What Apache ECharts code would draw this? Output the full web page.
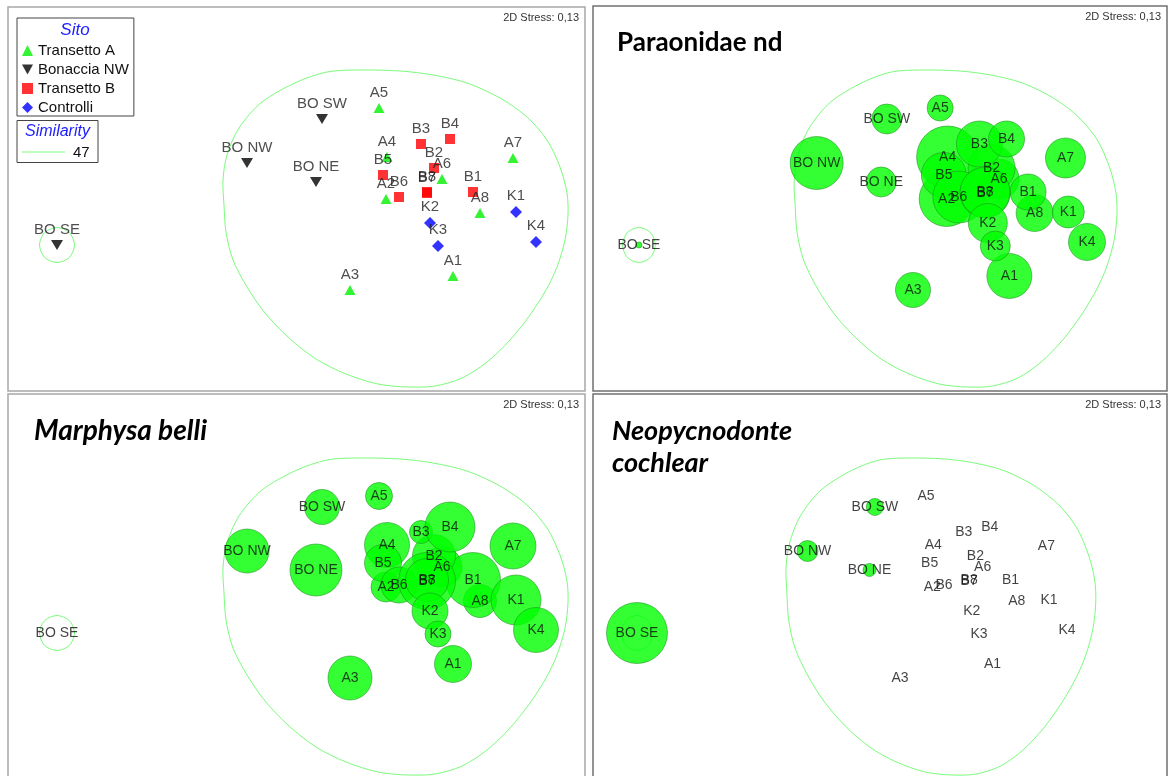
<!DOCTYPE html>
<html>
<head>
<meta charset="utf-8">
<script src="https://cdn.jsdelivr.net/npm/echarts@6/dist/echarts.min.js"></script>
<style>
html, body { margin: 0; padding: 0; background: #ffffff; }
#chart { width: 1170px; height: 776px; }
</style>
</head>
<body>
<div id="chart"></div>
<script>
// nMDS ordination of the samples, 2D stress 0,13
const samples = ['A1','A2','A3','A4','A5','A6','A7','A8',
                 'B1','B2','B3','B4','B5','B6','B7','B8',
                 'BO NW','BO SW','BO NE','BO SE',
                 'K1','K2','K3','K4'];
const sito = ['Transetto A','Transetto A','Transetto A','Transetto A','Transetto A','Transetto A','Transetto A','Transetto A',
              'Transetto B','Transetto B','Transetto B','Transetto B','Transetto B','Transetto B','Transetto B','Transetto B',
              'Bonaccia NW','Bonaccia NW','Bonaccia NW','Bonaccia NW',
              'Controlli','Controlli','Controlli','Controlli'];
const mds1 = [1.23, 0.56, 0.20, 0.57, 0.49, 1.12, 1.83, 1.50,
              1.43, 1.04, 0.91, 1.20, 0.53, 0.69, 0.97, 0.97,
              -0.83, -0.08, -0.14, -2.73,
              1.86, 1.00, 1.08, 2.06];
const mds2 = [-0.76, 0.01, -0.90, 0.43, 0.92, 0.21, 0.42, -0.13,
              0.08, 0.32, 0.56, 0.61, 0.25, 0.03, 0.07, 0.08,
              0.37, 0.81, 0.18, -0.45,
              -0.12, -0.23, -0.46, -0.42];

// species abundances shown as bubbles
const paraonidae = [9.0, 11.0, 7.0, 12.4, 5.2, 8.0, 8.0, 7.4,
                    7.2, 9.4, 9.2, 7.2, 9.0, 10.4, 10.0, 10.0,
                    10.6, 6.0, 6.0, 1.2,
                    6.4, 7.8, 6.0, 7.4];
const marphysa = [7.4, 6.0, 8.8, 9.0, 5.4, 8.0, 9.2, 6.6,
                  11.0, 8.6, 4.6, 10.0, 7.4, 7.2, 11.4, 8.6,
                  8.8, 7.0, 10.4, 0,
                  10.0, 7.2, 5.2, 9.0];
const neopycnodonte = [0, 0, 0, 0, 0, 0, 0, 0,
                       0, 0, 0, 0, 0, 0, 0, 0,
                       4.2, 3.4, 2.6, 12.2,
                       0, 0, 0, 0];

// 47 % similarity contours, in MDS coordinates
const similarityLevel = 47;
const contourMainX = [0.27, 0.70, 1.03, 1.37, 1.70, 1.97, 2.17, 2.30, 2.37, 2.38, 2.35, 2.27, 2.16, 2.00, 1.80, 1.57, 1.32,
                      1.05, 0.78, 0.48, 0.16, -0.14, -0.41, -0.65, -0.83, -0.97, -1.04, -1.06, -1.07, -1.03, -0.91, -0.68, -0.33, -0.03];
const contourMainY = [1.30, 1.29, 1.25, 1.17, 1.02, 0.83, 0.60, 0.33, 0.07, -0.15, -0.40, -0.67, -0.90, -1.15, -1.40, -1.62, -1.78,
                      -1.86, -1.87, -1.84, -1.74, -1.59, -1.38, -1.13, -0.87, -0.60, -0.32, -0.05, 0.20, 0.45, 0.72, 0.98, 1.18, 1.28];
const contourSeX = [-2.555, -2.606, -2.73, -2.854, -2.905, -2.854, -2.73, -2.606];
const contourSeY = [-0.45, -0.326, -0.275, -0.326, -0.45, -0.574, -0.625, -0.574];

const sitoNames = ['Transetto A', 'Bonaccia NW', 'Transetto B', 'Controlli'];
const stressText = '2D Stress: 0,13';
const panelTitles = ['', 'Paraonidae nd', 'Marphysa belli', 'Neopycnodonte\ncochlear'];

const contours = [
  { x: contourMainX, y: contourMainY },
  { x: contourSeX, y: contourSeY }
];

const LABEL_FONT = 'Liberation Sans, Arial, sans-serif';
const TITLE_FONT = 'Lato, sans-serif';
const BUBBLE_PX = 5;            // bubble diameter per abundance unit
const CONTOUR_COLOR = '#7cfb7c';

const markerStyle = {
  'Transetto A': { symbol: 'triangle', size: [11, 10], color: '#00f000' },
  'Bonaccia NW': { symbol: 'path://M0,0L10,0L5,9Z', size: [12, 10], color: '#000000' },
  'Transetto B': { symbol: 'rect', size: [10, 10], color: '#ff0000' },
  'Controlli':   { symbol: 'diamond', size: [12, 12], color: '#0000ff' }
};

// panel frames: grid in pixels + visible axis extent in MDS units
const panels = [
  { left: 8,   top: 7,   width: 577, height: 384, xMin: -3.22, xMax: 2.55,  yMin: -1.91, yMax: 1.93 },
  { left: 593, top: 7,   width: 575, height: 384, xMin: -3.221, xMax: 2.926, yMin: -1.91, yMax: 1.93 },
  { left: 8,   top: 395, width: 577, height: 381, xMin: -3.22, xMax: 2.55,  yMin: -1.88, yMax: 1.93 },
  { left: 593, top: 395, width: 575, height: 381, xMin: -3.220, xMax: 3.185, yMin: -1.88, yMax: 1.93 }
];

const grid = panels.map(p => ({ left: p.left, top: p.top, width: p.width, height: p.height, containLabel: false }));
const xAxis = panels.map((p, i) => ({ type: 'value', gridIndex: i, min: p.xMin, max: p.xMax, show: false }));
const yAxis = panels.map((p, i) => ({ type: 'value', gridIndex: i, min: p.yMin, max: p.yMax, show: false }));

function contourSeries(i) {
  return {
    type: 'custom',
    name: 'contour' + i,
    xAxisIndex: i, yAxisIndex: i,
    silent: true,
    z: 1,
    data: contours.map((c, k) => [c.x[0], c.y[0], k]),
    renderItem(params, api) {
      const c = contours[params.dataIndex];
      const pts = c.x.map((x, k) => api.coord([x, c.y[k]]));
      return {
        type: 'polygon',
        shape: { points: pts, smooth: 0.3 },
        style: { fill: 'none', stroke: CONTOUR_COLOR, lineWidth: 1 }
      };
    }
  };
}

const series = [];

// panel a: sites by group
sitoNames.forEach(name => {
  const st = markerStyle[name];
  const data = [];
  samples.forEach((s, k) => { if (sito[k] === name) data.push({ name: s, value: [mds1[k], mds2[k]] }); });
  series.push({
    type: 'scatter', name: name, xAxisIndex: 0, yAxisIndex: 0, z: 3,
    symbol: st.symbol, symbolSize: st.size,
    itemStyle: { color: st.color },
    label: { show: true, position: 'top', distance: 3, formatter: '{b}',
             fontFamily: LABEL_FONT, fontSize: 15, color: '#222' },
    data: data
  });
});
series.push(contourSeries(0));

// panels b, c, d: bubbles
[paraonidae, marphysa, neopycnodonte].forEach((vals, j) => {
  const i = j + 1;
  series.push(contourSeries(i));
  series.push({
    type: 'scatter', name: 'bubble' + i, xAxisIndex: i, yAxisIndex: i, z: 2,
    symbol: 'circle',
    symbolSize: v => v[2] * BUBBLE_PX,
    itemStyle: { color: '#00ff00', borderColor: '#1f8f1f', borderWidth: 0.7 },
    data: samples.map((s, k) => ({ name: s, value: [mds1[k], mds2[k], vals[k]] }))
  });
  series.push({
    type: 'scatter', name: 'labels' + i, xAxisIndex: i, yAxisIndex: i, z: 4,
    symbolSize: 0, silent: true,
    label: { show: true, position: 'inside', formatter: '{b}',
             fontFamily: LABEL_FONT, fontSize: 14, color: '#111' },
    data: samples.map((s, k) => ({ name: s, value: [mds1[k], mds2[k]] }))
  });
});

const frameColors = ['#a8a8a8', '#707070', '#a8a8a8', '#707070'];
const frames = [
  { x: 8, y: 7, w: 577, h: 384 },
  { x: 593, y: 6, w: 574, h: 385 },
  { x: 8, y: 394, w: 577, h: 390 },
  { x: 593, y: 394, w: 574, h: 390 }
];

const graphic = [];
frames.forEach((f, i) => {
  graphic.push({ type: 'rect', silent: true, z: 0,
    shape: { x: f.x, y: f.y, width: f.w, height: f.h },
    style: { fill: 'none', stroke: frameColors[i], lineWidth: 1.5 } });
  graphic.push({ type: 'text', silent: true, z: 10,
    x: f.x + f.w - 6, y: f.y + 11,
    style: { text: stressText, fill: '#333', font: '11px ' + LABEL_FONT, align: 'right', verticalAlign: 'middle' } });
});
// legend caption and similarity key of panel a
graphic.push({ type: 'text', silent: true, z: 10, x: 75, y: 30,
  style: { text: 'Sito', fill: '#2020ff', font: 'italic 17px ' + LABEL_FONT, align: 'center', verticalAlign: 'middle' } });
graphic.push({ type: 'rect', silent: true, z: 10,
  shape: { x: 17, y: 120.5, width: 81, height: 42 },
  style: { fill: '#fff', stroke: '#444', lineWidth: 1 } });
graphic.push({ type: 'text', silent: true, z: 11, x: 57.5, y: 132,
  style: { text: 'Similarity', fill: '#2020ff', font: 'italic 16px ' + LABEL_FONT, align: 'center', verticalAlign: 'middle' } });
graphic.push({ type: 'line', silent: true, z: 11,
  shape: { x1: 22, y1: 152, x2: 65, y2: 152 },
  style: { stroke: CONTOUR_COLOR, lineWidth: 1 } });
graphic.push({ type: 'text', silent: true, z: 11, x: 73, y: 152.5,
  style: { text: String(similarityLevel), fill: '#111', font: '15px ' + LABEL_FONT, align: 'left', verticalAlign: 'middle' } });

const title = [
  { text: panelTitles[1], left: 617, top: 28, padding: 0,
    textStyle: { fontFamily: TITLE_FONT, fontWeight: 'bold', fontSize: 26, lineHeight: 30, color: '#000' } },
  { text: panelTitles[2], left: 34, top: 416, padding: 0,
    textStyle: { fontFamily: TITLE_FONT, fontWeight: 'bold', fontStyle: 'italic', fontSize: 28, lineHeight: 30, color: '#000' } },
  { text: panelTitles[3], left: 612, top: 415, padding: 0,
    textStyle: { fontFamily: TITLE_FONT, fontWeight: 'bold', fontStyle: 'italic', fontSize: 27, color: '#000', lineHeight: 32 } }
];

const chart = echarts.init(document.getElementById('chart'), null, { renderer: 'canvas' });
chart.setOption({
  backgroundColor: '#ffffff',
  animation: false,
  title: title,
  legend: {
    orient: 'vertical', left: 17, top: 18,
    padding: [25, 5, 1, 5],
    itemWidth: 11, itemHeight: 11, itemGap: 4,
    borderColor: '#444', borderWidth: 1,
    selectedMode: false,
    textStyle: { fontFamily: LABEL_FONT, fontSize: 15, color: '#111', lineHeight: 15 },
    data: sitoNames
  },
  grid: grid,
  xAxis: xAxis,
  yAxis: yAxis,
  series: series,
  graphic: graphic
});
</script>
</body>
</html>
